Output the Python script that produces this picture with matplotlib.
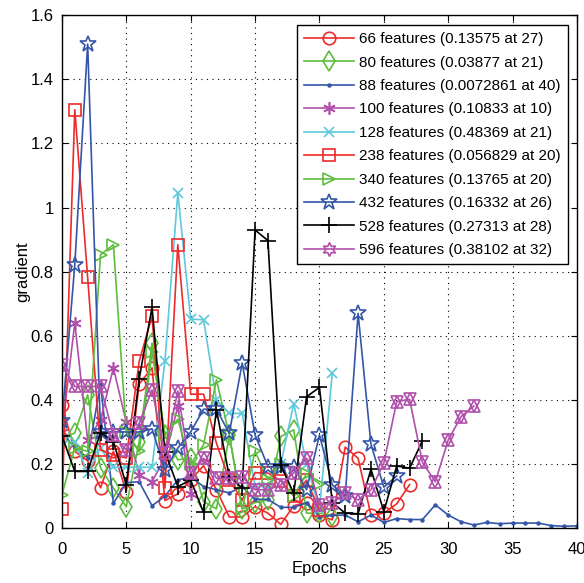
import matplotlib
matplotlib.use("Agg")
import matplotlib.pyplot as plt
from matplotlib.ticker import FuncFormatter, MultipleLocator

plt.rcParams['font.family'] = ['Liberation Sans', 'DejaVu Sans']

labels = ["66 features (0.13575 at 27)", "80 features (0.03877 at 21)",
          "88 features (0.0072861 at 40)", "100 features (0.10833 at 10)",
          "128 features (0.48369 at 21)", "238 features (0.056829 at 20)",
          "340 features (0.13765 at 20)", "432 features (0.16332 at 26)",
          "528 features (0.27313 at 28)", "596 features (0.38102 at 32)"]

f66 = [0.385, 0.24, 0.21, 0.126, 0.24, 0.114, 0.45, 0.50, 0.086, 0.107, 0.15, 0.195, 0.12, 0.035,
       0.035, 0.067, 0.047, 0.012, 0.07, 0.08, 0.04, 0.026, 0.253, 0.218, 0.041, 0.047, 0.076, 0.136]
f80 = [0.28, 0.297, 0.416, 0.188, 0.125, 0.067, 0.27, 0.577, 0.29, 0.213, 0.22, 0.083, 0.06, 0.29,
       0.06, 0.08, 0.088, 0.286, 0.307, 0.047, 0.047, 0.039]
f88 = [0.3, 0.25, 0.22, 0.45, 0.078, 0.142, 0.145, 0.07, 0.1, 0.15, 0.16, 0.13, 0.12, 0.11, 0.13,
       0.09, 0.09, 0.065, 0.065, 0.079, 0.036, 0.04, 0.041, 0.02, 0.041, 0.018, 0.03, 0.027, 0.027,
       0.073, 0.041, 0.02, 0.01, 0.018, 0.014, 0.016, 0.016, 0.016, 0.008, 0.006, 0.0073]
f100 = [0.3, 0.64, 0.275, 0.338, 0.5, 0.33, 0.166, 0.145, 0.22, 0.38, 0.108]
f128 = [0.27, 0.27, 0.172, 0.25, 0.19, 0.19, 0.19, 0.19, 0.52, 1.045, 0.652, 0.65, 0.4, 0.358,
        0.358, 0.13, 0.13, 0.2, 0.388, 0.2, 0.06, 0.484]
f238 = [0.059, 1.305, 0.782, 0.244, 0.229, 0.219, 0.52, 0.662, 0.125, 0.884, 0.418, 0.418, 0.265,
        0.15, 0.088, 0.173, 0.172, 0.148, 0.1, 0.15, 0.057]
f340 = [0.104, 0.25, 0.24, 0.853, 0.884, 0.3, 0.24, 0.55, 0.29, 0.34, 0.2, 0.26, 0.463, 0.29,
        0.06, 0.24, 0.15, 0.2, 0.1, 0.17, 0.138]
f432 = [0.333, 0.821, 1.51, 0.301, 0.301, 0.3, 0.3, 0.31, 0.182, 0.25, 0.3, 0.371, 0.371, 0.296,
        0.515, 0.291, 0.192, 0.192, 0.192, 0.12, 0.291, 0.135, 0.1, 0.67, 0.262, 0.128, 0.163]
f528 = [0.288, 0.177, 0.177, 0.298, 0.27, 0.135, 0.466, 0.689, 0.239, 0.13, 0.15, 0.049, 0.369,
        0.161, 0.125, 0.93, 0.897, 0.197, 0.109, 0.41, 0.439, 0.08, 0.047, 0.045, 0.184, 0.052,
        0.194, 0.187, 0.273]
f596 = [0.509, 0.442, 0.442, 0.442, 0.29, 0.244, 0.327, 0.431, 0.234, 0.428, 0.171, 0.218, 0.156,
        0.156, 0.16, 0.12, 0.12, 0.135, 0.172, 0.218, 0.073, 0.078, 0.109, 0.088, 0.12, 0.203,
        0.395, 0.402, 0.205, 0.145, 0.275, 0.348, 0.381]

series = [f66, f80, f88, f100, f128, f238, f340, f432, f528, f596]

RED = '#ee2a2a'
GREEN = '#5ebd3e'
BLUE = '#3556a8'
MAG = '#b050aa'
CYAN = '#5ec8dc'
styles = [
    dict(color=RED, marker='o', ms=9),
    dict(color=GREEN, marker='d', ms=10),
    dict(color=BLUE, marker='.', ms=4),
    dict(color=MAG, marker=(6, 2, 0), ms=9),
    dict(color=CYAN, marker='x', ms=7),
    dict(color=RED, marker='s', ms=8),
    dict(color=GREEN, marker='>', ms=9),
    dict(color=BLUE, marker='*', ms=12),
    dict(color='black', marker='+', ms=12),
    dict(color=MAG, marker='h', ms=0),
]

fig = plt.figure(figsize=(5.84, 5.83), dpi=100)
ax = fig.add_axes([0.106, 0.094, 0.882, 0.880])

for i, (ys, lab, st) in enumerate(zip(series, labels, styles)):
    xs = list(range(len(ys)))
    if i == 9:
        # hexagram marker: two overlapping triangles
        ax.plot(xs, ys, color=MAG, lw=1.2, label=None)
        ax.plot(xs, ys, ls='none', marker='^', ms=9, mfc='none', mec=MAG, mew=1.2)
        ax.plot(xs, ys, ls='none', marker='v', ms=9, mfc='none', mec=MAG, mew=1.2)
        ax.plot([], [], color=MAG, lw=1.2, marker=(6, 1, 0), ms=10, mfc='none',
                mec=MAG, mew=1.2, label=lab)
    else:
        ax.plot(xs, ys, color=st['color'], lw=1.2, marker=st['marker'], ms=st['ms'],
                mfc='none' if st['marker'] not in ('.',) else st['color'],
                mec=st['color'], mew=1.2, label=lab)

ax.set_xlim(0, 40)
ax.set_ylim(0, 1.6)
ax.xaxis.set_major_locator(MultipleLocator(5))
ax.yaxis.set_major_locator(MultipleLocator(0.2))
ax.yaxis.set_major_formatter(FuncFormatter(lambda v, p: f"{v:g}"))
ax.tick_params(direction='in', top=True, right=True, labelsize=12, length=4)
ax.tick_params(axis='x', pad=10)
ax.tick_params(axis='y', pad=6)
ax.grid(True, color='black', linestyle=(0, (1, 4)), linewidth=0.8)
for s in ax.spines.values():
    s.set_linewidth(1.0)
ax.set_xlabel("Epochs", fontsize=12, labelpad=3)
ax.set_ylabel("gradient", fontsize=12, labelpad=0)

leg = ax.legend(loc='upper right', bbox_to_anchor=(0.9825, 0.9805), fontsize=11,
                frameon=True, fancybox=False, edgecolor='black', framealpha=1,
                handlelength=3.3, labelspacing=0.62, borderpad=0.45, handletextpad=0.35,
                borderaxespad=0)
leg.get_frame().set_linewidth(1.0)

fig.savefig("out.png", dpi=100)
